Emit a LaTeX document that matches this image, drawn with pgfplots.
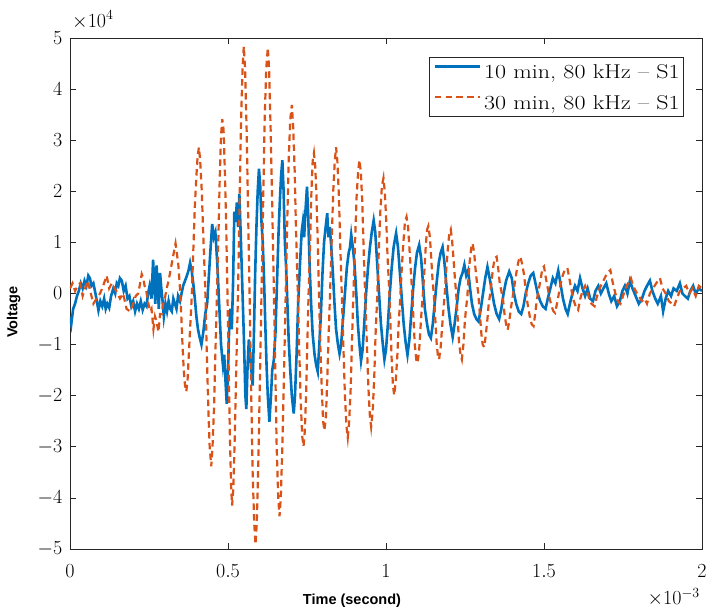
\RequirePackage{fix-cm}
\documentclass[border=0pt]{standalone}
\usepackage{fontspec}
\usepackage{graphicx}
\usepackage{pgfplots}
\pgfplotsset{compat=1.18}
\newfontfamily\arialbf[BoldFont={Liberation Sans Bold}]{Liberation Sans}
\definecolor{mblue}{rgb}{0,0.447,0.741}
\definecolor{morange}{rgb}{0.85,0.325,0.098}
\definecolor{maxis}{rgb}{0.15,0.15,0.15}
\begin{document}
\begin{tikzpicture}
\begin{axis}[
  name=ax,
  scale only axis,
  width=632pt, height=511pt,
  xmin=0, xmax=2, ymin=-5, ymax=5,
  xtick={0,0.5,1,1.5,2},
  ytick={-5,-4,-3,-2,-1,0,1,2,3,4,5},
  tick align=inside,
  major tick length=6pt,
  axis line style={maxis, line width=0.8pt},
  every tick/.style={maxis, line width=0.8pt},
  tick label style={font=\fontsize{20}{24}\selectfont, text=black, inner sep=0pt},
  yticklabel style={xshift=-7.5pt},
  xticklabel style={yshift=-15pt},
  legend style={at={(1,1)}, anchor=north east, xshift=-18pt, yshift=-19pt,
    font=\fontsize{20}{24}\selectfont, draw=maxis, line width=0.8pt,
    inner xsep=4pt, inner ysep=6.2pt, column sep=3pt, row sep=14.6pt,
    nodes={inner sep=0pt, text height=15pt, text depth=1pt}},
  legend cell align=left,
  legend image code/.code={\draw[#1] (0pt,5pt) -- (45pt,5pt);},
  clip=true,
]
\addplot[mblue, line width=2.6pt] coordinates {
(0.000,-0.46) (0.004,-0.60) (0.010,-0.30) (0.016,-0.20) (0.022,-0.05) (0.028,0.05) (0.034,0.20) (0.040,0.10)
(0.046,0.25) (0.052,0.15) (0.058,0.35) (0.063,0.30) (0.068,0.15) (0.074,0.20) (0.079,0.05) (0.085,-0.15)
(0.090,-0.33) (0.096,-0.15) (0.102,-0.25) (0.108,-0.10) (0.113,-0.30) (0.118,-0.20) (0.124,-0.28) (0.130,-0.05)
(0.137,0.10) (0.143,0.00) (0.148,0.20) (0.153,0.15) (0.158,0.30) (0.164,0.25) (0.170,0.05) (0.176,0.15)
(0.182,-0.10) (0.188,-0.05) (0.194,-0.25) (0.200,-0.15) (0.206,-0.35) (0.212,-0.20) (0.218,-0.30) (0.224,-0.15)
(0.230,-0.32) (0.236,-0.20) (0.242,-0.25) (0.247,0.00) (0.252,0.15) (0.258,-0.10) (0.263,0.66) (0.267,0.10)
(0.270,-0.20) (0.274,0.55) (0.278,0.10) (0.281,-0.30) (0.285,0.40) (0.289,0.10) (0.293,-0.15) (0.297,-0.45)
(0.302,-0.20) (0.307,-0.35) (0.312,-0.15) (0.317,-0.30) (0.322,-0.35) (0.327,-0.10) (0.332,-0.20) (0.337,-0.30)
(0.342,-0.05) (0.348,-0.15) (0.353,0.00) (0.358,0.15) (0.364,0.25) (0.370,0.35) (0.375,0.45) (0.380,0.60)
(0.385,0.45) (0.390,0.20) (0.395,-0.10) (0.400,-0.45) (0.405,-0.70) (0.410,-0.85) (0.416,-1.00) (0.422,-0.75)
(0.428,-0.40) (0.434,-0.20) (0.440,0.40) (0.445,0.90) (0.450,1.36) (0.455,1.10) (0.460,1.20) (0.466,0.60)
(0.472,-0.20) (0.478,-1.00) (0.484,-1.40) (0.488,-1.20) (0.492,-1.70) (0.496,-2.16) (0.500,-1.50) (0.504,-0.60)
(0.508,-0.30) (0.512,-0.70) (0.516,0.20) (0.520,1.60) (0.524,1.40) (0.528,1.78) (0.532,1.30) (0.536,1.95)
(0.540,1.20) (0.545,0.20) (0.550,-0.80) (0.555,-2.00) (0.558,-2.26) (0.562,-1.40) (0.566,-0.90) (0.570,-1.20)
(0.574,-1.50) (0.578,-1.80) (0.582,-0.80) (0.586,0.40) (0.590,1.30) (0.594,2.00) (0.598,2.44) (0.602,2.10)
(0.606,1.40) (0.610,1.00) (0.614,0.30) (0.618,-0.60) (0.622,-1.40) (0.626,-2.00) (0.631,-2.51) (0.636,-2.00)
(0.640,-1.50) (0.645,-1.30) (0.650,-0.80) (0.655,0.20) (0.660,1.20) (0.664,1.80) (0.668,2.30) (0.672,2.61)
(0.676,2.00) (0.680,1.00) (0.684,0.50) (0.688,-0.20) (0.692,-0.90) (0.697,-1.50) (0.702,-2.00) (0.708,-2.35)
(0.712,-2.00) (0.717,-1.20) (0.722,-0.20) (0.728,0.60) (0.733,1.20) (0.737,1.40) (0.741,1.10) (0.745,1.60)
(0.750,2.09) (0.754,1.50) (0.758,0.60) (0.763,-0.20) (0.768,-0.80) (0.774,-1.20) (0.779,-1.40) (0.784,-1.53)
(0.789,-1.00) (0.794,-0.40) (0.799,0.40) (0.804,1.00) (0.809,1.30) (0.814,1.57) (0.818,1.10) (0.822,1.30)
(0.827,0.90) (0.832,0.40) (0.837,-0.20) (0.842,-0.70) (0.848,-1.00) (0.853,-1.18) (0.858,-1.00) (0.864,-0.50)
(0.870,0.00) (0.876,0.50) (0.882,0.80) (0.886,0.90) (0.890,1.15) (0.895,0.90) (0.900,0.60) (0.906,0.00)
(0.911,-0.60) (0.916,-1.00) (0.921,-1.32) (0.926,-1.10) (0.931,-0.60) (0.937,0.00) (0.943,0.50) (0.949,0.90)
(0.955,1.20) (0.961,1.43) (0.966,1.20) (0.972,0.60) (0.978,0.00) (0.984,-0.60) (0.990,-1.00) (0.995,-1.29)
(1.000,-1.10) (1.006,-0.60) (1.012,0.00) (1.018,0.50) (1.024,0.90) (1.028,1.05) (1.032,1.18) (1.038,0.90)
(1.044,0.40) (1.050,-0.10) (1.056,-0.60) (1.062,-0.95) (1.068,-1.20) (1.074,-0.90) (1.080,-0.40) (1.086,0.10)
(1.092,0.50) (1.098,0.80) (1.105,0.95) (1.111,0.70) (1.117,0.20) (1.123,-0.30) (1.130,-0.60) (1.136,-0.80)
(1.142,-0.87) (1.148,-0.60) (1.154,-0.20) (1.160,0.20) (1.167,0.60) (1.173,0.80) (1.179,0.91) (1.185,0.60)
(1.192,0.10) (1.198,-0.30) (1.204,-0.60) (1.211,-0.85) (1.217,-0.60) (1.223,-0.30) (1.230,0.10) (1.236,0.30)
(1.242,0.40) (1.248,0.56) (1.254,0.35) (1.260,0.45) (1.266,0.10) (1.272,-0.20) (1.279,-0.40) (1.286,-0.50)
(1.293,-0.55) (1.300,-0.30) (1.307,0.00) (1.314,0.30) (1.321,0.52) (1.328,0.30) (1.335,0.05) (1.342,-0.20)
(1.350,-0.40) (1.358,-0.50) (1.365,-0.30) (1.372,0.00) (1.380,0.25) (1.390,0.43) (1.398,0.30) (1.405,0.00)
(1.412,-0.20) (1.420,-0.35) (1.428,-0.40) (1.435,-0.25) (1.442,0.00) (1.450,0.20) (1.458,0.35) (1.466,0.40)
(1.473,0.20) (1.480,0.00) (1.488,-0.15) (1.496,-0.25) (1.505,-0.30) (1.512,-0.10) (1.520,0.10) (1.528,0.30)
(1.536,0.20) (1.545,0.45) (1.552,0.20) (1.560,-0.10) (1.568,-0.30) (1.575,-0.40) (1.582,-0.20) (1.590,0.00)
(1.598,0.15) (1.606,0.05) (1.614,0.30) (1.622,0.10) (1.630,-0.05) (1.638,0.10) (1.646,-0.10) (1.655,-0.15)
(1.663,0.05) (1.672,0.15) (1.680,0.00) (1.688,0.10) (1.697,0.20) (1.705,0.00) (1.713,-0.15) (1.722,-0.05)
(1.731,-0.25) (1.740,-0.15) (1.748,0.05) (1.756,0.15) (1.764,0.00) (1.772,0.25) (1.780,0.10) (1.790,-0.05)
(1.800,-0.20) (1.810,-0.10) (1.818,0.05) (1.826,0.15) (1.835,0.25) (1.843,0.05) (1.852,-0.10) (1.860,-0.20)
(1.870,-0.05) (1.877,-0.35) (1.885,-0.10) (1.893,0.05) (1.902,-0.05) (1.910,0.10) (1.920,0.05) (1.930,0.20)
(1.938,0.00) (1.946,-0.05) (1.955,-0.10) (1.963,0.05) (1.972,0.15) (1.980,0.00) (1.990,0.10) (2.000,0.05)
};
\addlegendentry{\scalebox{1.2}[1]{10 min, 80 kHz -- S1}}
\addplot[morange, line width=2.2pt, dash pattern=on 6.5pt off 4.3pt] coordinates {
(0.000,0.10) (0.008,0.20) (0.016,0.05) (0.024,0.15) (0.032,0.20) (0.040,-0.05) (0.048,0.10) (0.056,0.25)
(0.064,0.05) (0.074,-0.20) (0.084,-0.10) (0.095,0.00) (0.105,0.15) (0.116,0.35) (0.124,0.10) (0.132,0.20)
(0.142,0.10) (0.150,0.00) (0.158,-0.10) (0.168,0.00) (0.179,-0.30) (0.190,-0.35) (0.200,-0.20) (0.208,-0.05)
(0.216,0.00) (0.222,0.20) (0.227,0.38) (0.232,0.30) (0.236,0.15) (0.240,0.10) (0.244,-0.05) (0.248,-0.20)
(0.254,-0.35) (0.258,-0.30) (0.264,-0.70) (0.269,-0.45) (0.274,-0.55) (0.280,-0.75) (0.285,-0.40) (0.290,-0.40)
(0.295,-0.20) (0.300,-0.10) (0.306,0.10) (0.312,0.25) (0.318,0.45) (0.324,0.65) (0.330,0.85) (0.334,0.98)
(0.338,0.80) (0.343,0.55) (0.348,0.10) (0.352,-0.40) (0.356,-1.00) (0.360,-1.50) (0.364,-1.80) (0.368,-1.92)
(0.372,-1.70) (0.376,-1.20) (0.380,-0.70) (0.385,-0.10) (0.390,0.80) (0.395,1.70) (0.400,2.30) (0.404,2.70)
(0.408,2.86) (0.412,2.60) (0.417,2.00) (0.422,1.10) (0.428,0.10) (0.433,-1.20) (0.438,-2.30) (0.442,-3.00)
(0.447,-3.38) (0.451,-3.00) (0.456,-2.20) (0.460,-1.20) (0.465,0.00) (0.470,1.20) (0.474,2.30) (0.478,3.10)
(0.482,3.41) (0.486,3.20) (0.490,2.40) (0.494,1.40) (0.498,0.10) (0.502,-1.40) (0.506,-2.80) (0.510,-3.80)
(0.513,-4.15) (0.517,-3.80) (0.521,-2.90) (0.526,-1.50) (0.532,0.10) (0.537,1.90) (0.541,3.30) (0.546,4.40)
(0.550,4.84) (0.554,4.40) (0.559,3.20) (0.563,1.80) (0.568,0.10) (0.573,-1.80) (0.578,-3.50) (0.583,-4.50)
(0.587,-4.91) (0.591,-4.50) (0.596,-3.30) (0.601,-1.70) (0.606,0.00) (0.611,1.70) (0.616,3.40) (0.621,4.40)
(0.626,4.81) (0.630,4.40) (0.635,3.20) (0.640,1.70) (0.645,0.10) (0.650,-1.60) (0.654,-3.00) (0.659,-4.00)
(0.663,-4.36) (0.667,-4.00) (0.672,-3.00) (0.677,-1.60) (0.682,-0.20) (0.687,1.30) (0.692,2.60) (0.697,3.40)
(0.702,3.69) (0.706,3.30) (0.711,2.40) (0.715,1.30) (0.720,0.20) (0.725,-1.00) (0.730,-2.10) (0.735,-2.80)
(0.739,-2.99) (0.743,-2.70) (0.747,-2.00) (0.751,-1.00) (0.755,0.00) (0.760,1.00) (0.764,2.00) (0.768,2.60)
(0.772,2.75) (0.776,2.50) (0.780,1.90) (0.784,1.00) (0.788,0.00) (0.792,-1.00) (0.797,-1.90) (0.801,-2.50)
(0.805,-2.68) (0.810,-2.40) (0.814,-1.70) (0.818,-0.90) (0.823,0.00) (0.828,1.00) (0.833,2.00) (0.838,2.60)
(0.842,2.86) (0.846,2.60) (0.851,1.90) (0.855,1.00) (0.860,0.00) (0.865,-1.00) (0.870,-2.00) (0.875,-2.60)
(0.879,-2.82) (0.883,-2.55) (0.888,-1.90) (0.892,-1.00) (0.897,0.00) (0.902,1.00) (0.907,1.90) (0.912,2.40)
(0.916,2.61) (0.920,2.40) (0.925,1.80) (0.929,0.90) (0.934,0.00) (0.939,-0.90) (0.944,-1.80) (0.949,-2.40)
(0.953,-2.61) (0.958,-2.30) (0.963,-1.60) (0.967,-0.80) (0.972,-0.10) (0.977,0.80) (0.982,1.60) (0.987,2.10)
(0.992,2.26) (0.996,2.00) (1.001,1.40) (1.005,0.70) (1.010,0.10) (1.014,-0.60) (1.018,-1.30) (1.022,-1.80)
(1.026,-1.99) (1.031,-1.70) (1.036,-1.20) (1.040,-0.60) (1.045,-0.10) (1.050,0.50) (1.055,1.00) (1.060,1.40)
(1.065,1.50) (1.070,1.30) (1.074,0.90) (1.079,0.40) (1.083,0.00) (1.087,-0.50) (1.091,-1.00) (1.096,-1.30)
(1.100,-1.36) (1.105,-1.10) (1.109,-0.70) (1.113,-0.30) (1.117,0.00) (1.122,0.50) (1.126,0.95) (1.130,1.25)
(1.134,1.32) (1.139,1.10) (1.143,0.70) (1.147,0.30) (1.151,0.00) (1.156,-0.50) (1.160,-0.95) (1.164,-1.20)
(1.168,-1.29) (1.173,-1.05) (1.177,-0.70) (1.182,-0.30) (1.186,0.00) (1.191,0.50) (1.196,0.90) (1.200,1.15)
(1.205,1.25) (1.209,1.05) (1.214,0.65) (1.218,0.30) (1.222,0.00) (1.227,-0.50) (1.231,-0.95) (1.236,-1.20)
(1.240,-1.29) (1.245,-1.00) (1.249,-0.60) (1.253,-0.30) (1.257,-0.10) (1.262,0.40) (1.266,0.70) (1.270,0.90)
(1.274,0.98) (1.279,0.80) (1.283,0.50) (1.288,0.20) (1.292,0.00) (1.297,-0.40) (1.302,-0.80) (1.306,-1.00)
(1.311,-1.05) (1.316,-0.80) (1.321,-0.50) (1.325,-0.20) (1.330,0.00) (1.335,0.30) (1.340,0.55) (1.345,0.70)
(1.350,0.72) (1.355,0.50) (1.360,0.20) (1.365,0.05) (1.370,-0.10) (1.375,-0.40) (1.380,-0.60) (1.385,-0.71)
(1.390,-0.55) (1.395,-0.30) (1.400,-0.10) (1.405,0.10) (1.410,0.30) (1.415,0.50) (1.420,0.65) (1.425,0.72)
(1.430,0.60) (1.436,0.40) (1.442,0.10) (1.448,-0.20) (1.455,-0.45) (1.461,-0.60) (1.467,-0.64) (1.472,-0.40)
(1.478,-0.10) (1.484,0.10) (1.490,0.30) (1.495,0.50) (1.500,0.53) (1.506,0.30) (1.512,0.10) (1.518,-0.10)
(1.524,-0.25) (1.530,-0.35) (1.535,-0.38) (1.541,-0.20) (1.547,0.00) (1.553,0.20) (1.559,0.35) (1.565,0.45)
(1.574,0.50) (1.580,0.30) (1.586,0.10) (1.592,-0.10) (1.600,-0.25) (1.608,-0.32) (1.615,-0.10) (1.622,0.05)
(1.630,0.15) (1.636,0.05) (1.643,-0.10) (1.650,-0.20) (1.660,-0.25) (1.668,-0.05) (1.676,0.10) (1.684,0.20)
(1.692,0.30) (1.700,0.40) (1.710,0.46) (1.718,0.20) (1.726,0.00) (1.734,-0.15) (1.742,-0.20) (1.750,-0.05)
(1.758,0.10) (1.766,0.20) (1.775,0.30) (1.782,0.15) (1.790,0.05) (1.800,-0.05) (1.810,-0.15) (1.818,-0.10)
(1.826,-0.20) (1.835,0.00) (1.845,0.10) (1.855,0.20) (1.867,0.30) (1.875,0.10) (1.885,0.00) (1.895,-0.15)
(1.905,-0.20) (1.912,-0.25) (1.920,-0.10) (1.930,0.05) (1.940,0.10) (1.950,0.15) (1.960,0.00) (1.970,0.10)
(1.980,-0.05) (1.990,0.15) (2.000,0.10)
};
\addlegendentry{\scalebox{1.2}[1]{30 min, 80 kHz -- S1}}
\end{axis}
\node[anchor=south west, inner sep=0pt, font=\fontsize{20}{24}\selectfont] at ([xshift=2pt,yshift=9pt]ax.north west) {$\times 10^{4}$};
\node[anchor=north east, inner sep=0pt, font=\fontsize{20}{24}\selectfont] at ([xshift=-2pt,yshift=-39pt]ax.south east) {$\times 10^{-3}$};
\node[anchor=base, inner sep=0pt, font=\arialbf\bfseries\fontsize{14.5}{17}\selectfont] at ([xshift=282pt,yshift=-55pt]ax.south west) {Time (second)};
\node[anchor=base, inner sep=0pt, rotate=90, font=\arialbf\bfseries\fontsize{14.5}{17}\selectfont] at ([xshift=-52.7pt,yshift=237pt]ax.south west) {Voltage};
\pgfresetboundingbox
\path[use as bounding box] ([xshift=-70pt,yshift=-65pt]ax.south west) rectangle ([xshift=8pt,yshift=38pt]ax.north east);
\end{tikzpicture}
\end{document}
